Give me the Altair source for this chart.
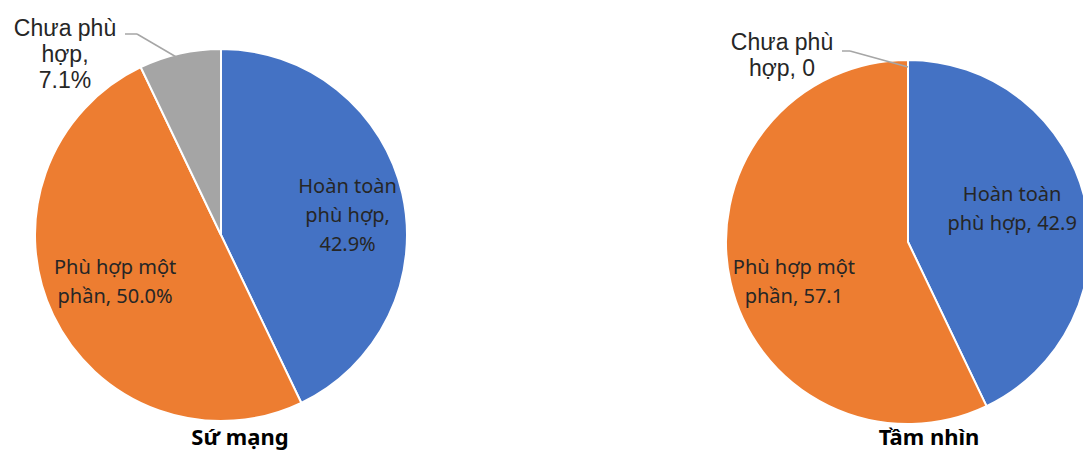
import altair as alt
import pandas as pd

categories = ["Hoàn toàn phù hợp", "Phù hợp một phần", "Chưa phù hợp"]
su_mang_values = [42.9, 50.0, 7.1]
tam_nhin_values = [42.9, 57.1, 0.0]
su_mang_labels = ["Hoàn toàn\nphù hợp,\n42.9%", "Phù hợp một\nphần, 50.0%", "Chưa phù\nhợp,\n7.1%"]
tam_nhin_labels = ["Hoàn toàn\nphù hợp, 42.9", "Phù hợp một\nphần, 57.1", "Chưa phù\nhợp, 0"]
pie_titles = ["Sứ mạng", "Tầm nhìn"]
colors = ["#4472C4", "#ED7D31", "#A5A5A5"]

rows = []
for pie, vals, labs in [(pie_titles[0], su_mang_values, su_mang_labels),
                        (pie_titles[1], tam_nhin_values, tam_nhin_labels)]:
    for i, (c, v, l) in enumerate(zip(categories, vals, labs)):
        rows.append(dict(pie=pie, idx=i, category=c, value=v, label=l))
df = pd.DataFrame(rows)

theta_scale = alt.Scale(domain=[0, 100])
color_scale = alt.Scale(domain=categories, range=colors)

base = alt.Chart(df).transform_window(
    cum="sum(value)", groupby=["pie"], sort=[alt.SortField("idx")], frame=[None, 0]
).transform_calculate(mid="datum.cum - datum.value / 2")

IN_LH = 29
OUT_LH = 26


def pie(name, cx, cy, r):
    return alt.Chart(df).transform_filter(alt.datum.pie == name).mark_arc(
        radius=r, stroke="white", strokeWidth=2
    ).encode(
        theta=alt.Theta("value:Q", stack=True, scale=theta_scale),
        color=alt.Color("category:N", scale=color_scale, legend=None),
        order=alt.Order("idx:Q", sort="ascending"),
        x=alt.value(cx),
        y=alt.value(cy),
    )


def inside_label(name, cat, cx, cy, r, dtheta, nlines):
    return base.transform_filter(
        (alt.datum.pie == name) & (alt.datum.category == cat)
    ).mark_text(
        radius=r, thetaOffset=dtheta, font="Noto Sans", fontSize=20,
        lineBreak="\n", lineHeight=IN_LH, align="center", baseline="middle",
        color="#262626", dy=-(nlines - 1) * IN_LH / 2,
    ).encode(
        theta=alt.Theta("mid:Q", scale=theta_scale),
        text="label:N",
        x=alt.value(cx),
        y=alt.value(cy),
    )


def outside_label(name, x, y, nlines):
    return alt.Chart(df).transform_filter(
        (alt.datum.pie == name) & (alt.datum.idx == 2)
    ).mark_text(
        font="Liberation Sans", fontSize=23, lineBreak="\n", lineHeight=OUT_LH,
        align="center", baseline="middle", color="#262626",
        dy=-(nlines - 1) * OUT_LH / 2,
    ).encode(text="label:N", x=alt.value(x), y=alt.value(y))


def title(name, x, y):
    return alt.Chart(df).transform_filter(
        (alt.datum.pie == name) & (alt.datum.idx == 0)
    ).mark_text(
        font="Noto Sans", fontSize=22, fontWeight="bold", align="center",
        baseline="middle", color="#000000",
    ).encode(text="pie:N", x=alt.value(x), y=alt.value(y))


one = pd.DataFrame({"k": [0]})


def seg(x1, y1, x2, y2):
    return alt.Chart(one).mark_rule(color="#A6A6A6", strokeWidth=1.5).encode(
        x=alt.value(x1), y=alt.value(y1), x2=alt.value(x2), y2=alt.value(y2)
    )


chart = alt.layer(
    pie(pie_titles[0], 213, 227, 186),
    pie(pie_titles[1], 900, 234, 182),
    inside_label(pie_titles[0], categories[0], 213, 227, 128, 0.075, 3),
    inside_label(pie_titles[0], categories[1], 213, 227, 116, 0.026, 2),
    inside_label(pie_titles[1], categories[0], 900, 234, 109, -0.077, 2),
    inside_label(pie_titles[1], categories[1], 900, 234, 121, -0.117, 2),
    outside_label(pie_titles[0], 57, 47, 3),
    outside_label(pie_titles[1], 774, 48, 2),
    seg(117, 26, 129, 26),
    seg(129, 26, 170, 50),
    seg(834, 43, 842, 43),
    seg(842, 43, 900, 59),
    title(pie_titles[0], 232, 430),
    title(pie_titles[1], 921, 430),
).properties(
    width=1075, height=460, padding=0, autosize="none"
).configure_view(stroke=None)

chart.save("out.html", embed_options={"renderer": "svg", "actions": False})
